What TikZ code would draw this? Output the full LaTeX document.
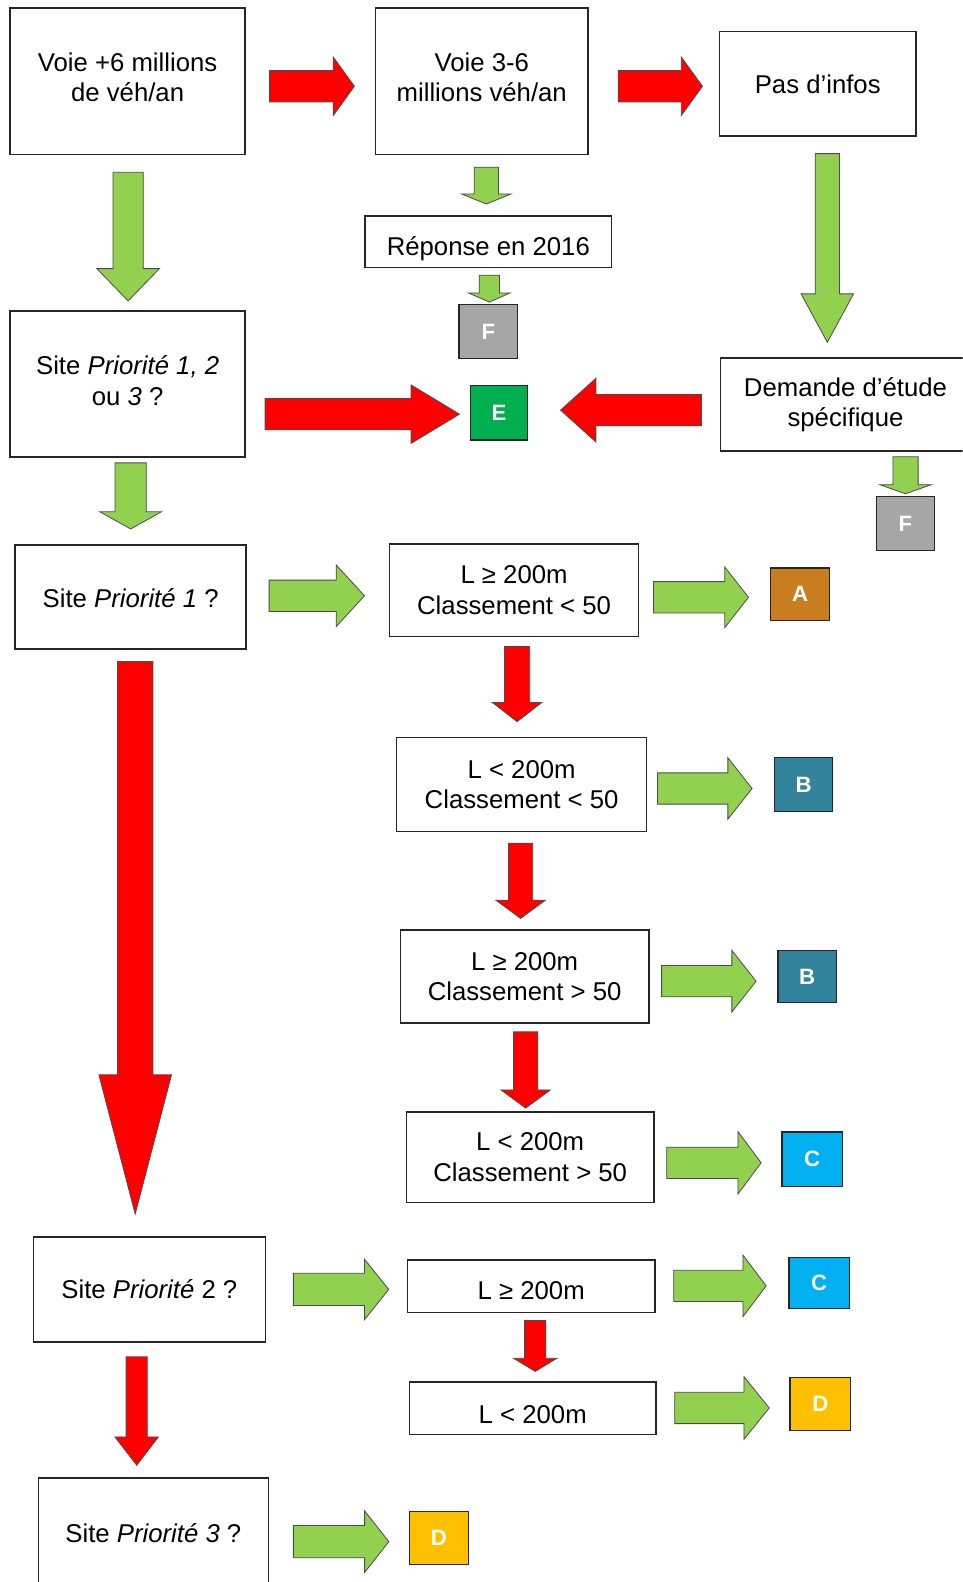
\documentclass[tikz,border=0pt]{standalone}
\usepackage{fontspec}
\setmainfont{Liberation Sans}
\usetikzlibrary{calc}

\definecolor{arrowgreen}{HTML}{92D050}
\definecolor{arrowred}{HTML}{FF0000}
\definecolor{gradeF}{HTML}{A6A6A6}
\definecolor{gradeE}{HTML}{00B050}
\definecolor{gradeA}{HTML}{C97D1F}
\definecolor{gradeB}{HTML}{31849B}
\definecolor{gradeC}{HTML}{00B0F0}
\definecolor{gradeD}{HTML}{FFC000}

\tikzset{
  box/.style={draw=black!85, line width=0.75pt, fill=white, inner sep=0pt,
    align=center, font=\fontsize{12.75}{15}\selectfont},
  grade/.style={draw=black!85, line width=0.6pt, fill=#1, inner sep=0pt,
    text=white, font=\fontsize{11}{13}\selectfont\bfseries},
  greenarrow/.style={fill=arrowgreen, draw=black!70, line width=0.4pt},
  redarrow/.style={fill=arrowred, draw=black!70, line width=0.4pt},
}

% rectangle node given by its corners (units of the picture)
\newcommand\boxat[7][box]{%
  \pgfmathsetmacro\boxW{(#5-#3)*0.5}%
  \pgfmathsetmacro\boxH{(#6-#4)*0.5}%
  \node[#1, minimum width=\boxW pt, minimum height=\boxH pt] (#2)
    at ({(#3+#5)/2},{(#4+#6)/2}) {#7};}

% centred lines moved up (or down) inside their box
\newcommand\liftby[2]{\raisebox{#1}[\height][\depth]{\begin{tabular}{@{}c@{}}#2\end{tabular}}}

% block arrows: style, tail, tip, half shaft width, half head width, head length
\newcommand\blkR[6]{%
  \path[#1] let \p1=(#2), \p2=(#3) in
    (\x1,{\y1+#4*0.5pt}) -- ({\x2-#6*0.5pt},{\y1+#4*0.5pt})
    -- ({\x2-#6*0.5pt},{\y1+#5*0.5pt}) -- (\x2,\y1)
    -- ({\x2-#6*0.5pt},{\y1-#5*0.5pt}) -- ({\x2-#6*0.5pt},{\y1-#4*0.5pt})
    -- (\x1,{\y1-#4*0.5pt}) -- cycle;}
\newcommand\blkL[6]{%
  \path[#1] let \p1=(#2), \p2=(#3) in
    (\x1,{\y1+#4*0.5pt}) -- ({\x2+#6*0.5pt},{\y1+#4*0.5pt})
    -- ({\x2+#6*0.5pt},{\y1+#5*0.5pt}) -- (\x2,\y1)
    -- ({\x2+#6*0.5pt},{\y1-#5*0.5pt}) -- ({\x2+#6*0.5pt},{\y1-#4*0.5pt})
    -- (\x1,{\y1-#4*0.5pt}) -- cycle;}
\newcommand\blkD[6]{%
  \path[#1] let \p1=(#2), \p2=(#3) in
    ({\x1-#4*0.5pt},\y1) -- ({\x1+#4*0.5pt},\y1)
    -- ({\x1+#4*0.5pt},{\y2+#6*0.5pt}) -- ({\x1+#5*0.5pt},{\y2+#6*0.5pt})
    -- (\x1,\y2) -- ({\x1-#5*0.5pt},{\y2+#6*0.5pt})
    -- ({\x1-#4*0.5pt},{\y2+#6*0.5pt}) -- cycle;}

\begin{document}
\begin{tikzpicture}[x=0.5pt, y=-0.5pt]
\useasboundingbox (0,0) rectangle (954,1568);
\fill[white] (0,0) rectangle (954,1568);
\clip (0,0) rectangle (954,1568);

% decision boxes
\boxat{v6}{10}{8}{243}{153}{\liftby{0.5pt}{Voie +6 millions\\de véh/an}}
\boxat{v36}{372}{8}{583}{153}{\liftby{0.5pt}{Voie 3-6\\millions véh/an}}
\boxat{pas}{713}{31}{908}{135}{\liftby{-2pt}{Pas d’infos}}
\boxat{rep}{362}{214}{606}{265}{\liftby{-4pt}{Réponse en 2016}}
\boxat[grade=gradeF]{f1}{455}{302}{513}{355}{F}
\boxat{s123}{10}{308}{243}{453}{\liftby{0pt}{Site \textit{Priorité 1, 2}\\ou \textit{3} ?}}
\boxat[grade=gradeE]{e}{466}{382}{523}{436}{E}
\boxat{dem}{714}{355}{962}{447}{Demande d’étude\\spécifique}
\boxat[grade=gradeF]{f2}{869}{492}{926}{546}{F}
\boxat{s1}{15}{540}{244}{643}{\liftby{-2.5pt}{Site \textit{Priorité 1} ?}}
\boxat{r1}{386}{539}{633}{631}{L ≥ 200m\\Classement < 50}
\boxat[grade=gradeA]{a}{764}{563}{822}{615}{A}
\boxat{r2}{393}{731}{641}{824}{L < 200m\\Classement < 50}
\boxat[grade=gradeB]{b1}{768}{751}{825}{804}{B}
\boxat{r3}{397}{922}{643}{1014}{L ≥ 200m\\Classement > 50}
\boxat[grade=gradeB]{b2}{771}{942}{829}{994}{B}
\boxat{r4}{403}{1102}{648}{1192}{L < 200m\\Classement > 50}
\boxat[grade=gradeC]{c1}{775}{1122}{835}{1176}{C}
\boxat{s2}{33}{1226}{263}{1330}{Site \textit{Priorité} 2 ?}
\boxat{r5}{404}{1249}{649}{1301}{\liftby{-3.5pt}{L ≥ 200m}}
\boxat[grade=gradeC]{c2}{782}{1246}{842}{1297}{C}
\boxat{r6}{406}{1370}{650}{1422}{\liftby{-4.5pt}{L < 200m}}
\boxat[grade=gradeD]{d1}{783}{1365}{843}{1418}{D}
\boxat{s3}{38}{1465}{266}{1575}{Site \textit{Priorité 3} ?}
\boxat[grade=gradeD]{d2}{406}{1498}{464}{1551}{D}

% top row
\blkR{redarrow}{$(v6.east)+(23.5,5)$}{$(v36.west)+(-20,0)$}{15.5}{29}{21}
\blkR{redarrow}{$(v36.east)+(29,5)$}{$(pas.west)+(-16,0)$}{15.5}{29}{21}
\blkD{greenarrow}{$(v6.south)+(0.5,17)$}{$(s123.north)+(0,-9)$}{15}{31}{32}
\blkD{greenarrow}{$(v36.south)+(4.5,12)$}{$(rep.north)+(0,-11)$}{12}{24.5}{10}
\blkD{greenarrow}{$(rep.south)+(1,7)$}{$(f1.north)+(0,-2)$}{10}{20.5}{9}
\blkD{greenarrow}{$(pas.south)+(9.5,16.5)$}{$(dem.north)+(0,-15)$}{12}{26}{48}

% towards E
\blkR{redarrow}{$(s123.east)+(19,30)$}{$(e.west)+(-10,0)$}{15.5}{29}{48}
\blkL{redarrow}{$(dem.west)+(-18,5.5)$}{$(e.east)+(32,0)$}{15.5}{31.5}{35}
\blkD{greenarrow}{$(f2.north |- dem.south)+(0,5)$}{$(f2.north)+(0,-2)$}{12.5}{25.5}{9}
\blkD{greenarrow}{$(s123.south)+(3,5)$}{$(s1.north)+(0,-15)$}{15.5}{30.5}{17}

% priority 1 branch
\blkR{greenarrow}{$(s1.east)+(22,-1)$}{$(r1.west)+(-24,0)$}{15.5}{30.5}{28}
\blkR{greenarrow}{$(r1.east)+(14,7)$}{$(a.west)+(-21.5,0)$}{15.5}{30}{23.5}
\blkD{redarrow}{$(r1.south)+(3,9)$}{$(r2.north)+(0,-15)$}{12.5}{24.5}{19}
\blkR{greenarrow}{$(r2.east)+(10,4)$}{$(b1.west)+(-22,0)$}{15.5}{30.5}{24}
\blkD{redarrow}{$(r2.south)+(-1,11)$}{$(r3.north)+(0,-11)$}{12}{24.5}{18}
\blkR{greenarrow}{$(r3.east)+(12,4.5)$}{$(b2.west)+(-21,0)$}{15.5}{30.5}{24}
\blkD{redarrow}{$(r3.south)+(1,8)$}{$(r4.north)+(0,-3)$}{12}{24.5}{18}
\blkR{greenarrow}{$(r4.east)+(12,5.5)$}{$(c1.west)+(-20,0)$}{15.5}{31}{23}

% priority 2 and 3 branches
\blkD{redarrow}{$(s1.south)+(4.5,12)$}{$(s2.north)+(0,-22)$}{17.5}{36}{138}
\blkR{greenarrow}{$(s2.east)+(27,0)$}{$(r5.west)+(-18,0)$}{16}{30}{24}
\blkR{greenarrow}{$(r5.east)+(18,-0.5)$}{$(c2.west)+(-22,0)$}{15.5}{30.5}{23}
\blkD{redarrow}{$(r5.south)+(4,7)$}{$(r6.north)+(0,-10)$}{10.5}{21.5}{13}
\blkR{greenarrow}{$(r6.east)+(18,-0.5)$}{$(d1.west)+(-20,0)$}{15.5}{31}{25}
\blkD{redarrow}{$(s2.south)+(-12.5,14)$}{$(s3.north)+(0,-12)$}{10.5}{21.5}{28}
\blkR{greenarrow}{$(s3.east)+(24,8)$}{$(d2.west)+(-20,0)$}{16}{30.5}{24}
\end{tikzpicture}
\end{document}
